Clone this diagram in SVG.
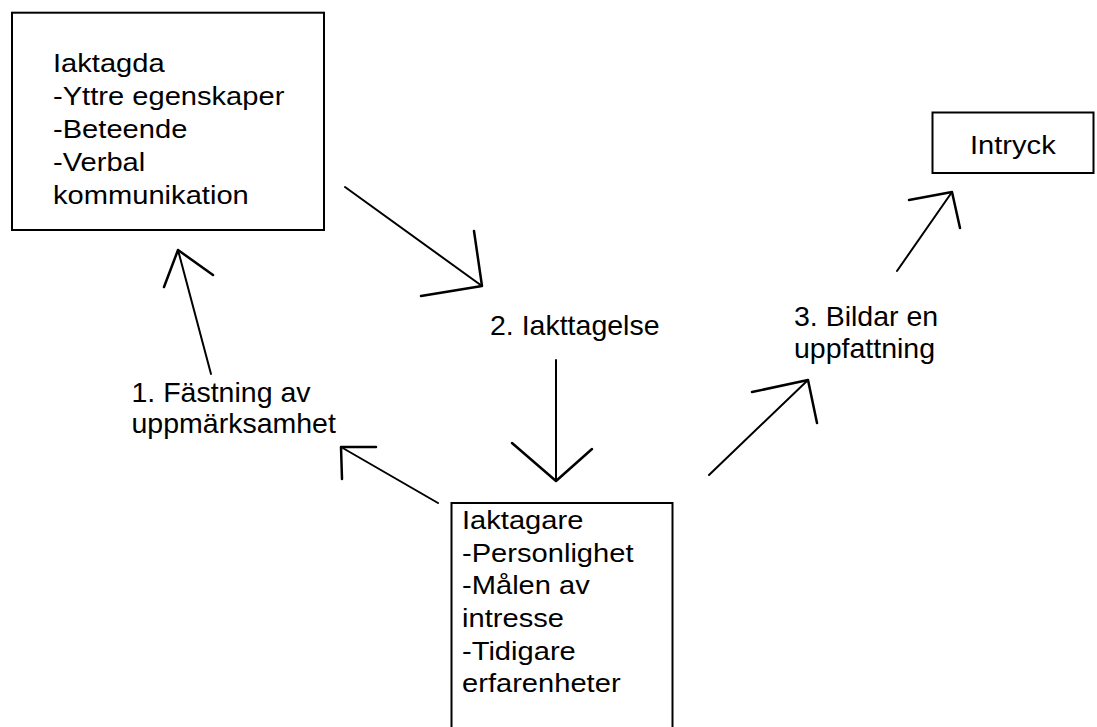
<svg xmlns="http://www.w3.org/2000/svg" width="1097" height="727" viewBox="0 0 1097 727">
<style>
.box{fill:#fff;stroke:#000;stroke-width:2}
.bt{font-family:"Liberation Sans",Arial,sans-serif;font-size:26px;fill:#000}
.lb{font-family:"Liberation Sans",Arial,sans-serif;font-size:28.5px;fill:#000}
.ln{fill:none;stroke:#000;stroke-width:2;stroke-linecap:round;stroke-linejoin:round}
.hd{fill:none;stroke:#000;stroke-width:2.5;stroke-linecap:round;stroke-linejoin:round}
</style>
<rect width="1097" height="727" fill="#fff"/>
<g id="iaktagda">
<rect class="box" x="12" y="12.7" width="312" height="217.3"/>
<text class="bt" transform="translate(53 0) scale(1.12 1)"><tspan x="0" y="72.5">Iaktagda</tspan><tspan x="0" y="105.5">-Yttre egenskaper</tspan><tspan x="0" y="138.5">-Beteende</tspan><tspan x="0" y="171.5">-Verbal</tspan><tspan x="0" y="204.5">kommunikation</tspan></text>
</g>
<g id="intryck">
<rect class="box" x="932.5" y="112.5" width="161" height="60.5"/>
<text class="bt" transform="translate(970 0) scale(1.12 1)"><tspan x="0" y="154">Intryck</tspan></text>
</g>
<g id="iaktagare">
<rect class="box" x="451.5" y="503" width="221" height="240"/>
<text class="bt" transform="translate(462 0) scale(1.12 1)"><tspan x="0" y="529">Iaktagare</tspan><tspan x="0" y="562">-Personlighet</tspan><tspan x="0" y="594">-Målen av</tspan><tspan x="0" y="627">intresse</tspan><tspan x="0" y="660">-Tidigare</tspan><tspan x="0" y="692.5">erfarenheter</tspan></text>
</g>
<g id="label-1">
<text class="lb"><tspan x="131.5" y="401.5">1. Fästning av</tspan><tspan x="131.5" y="432.5">uppmärksamhet</tspan></text>
</g>
<g id="label-2">
<text class="lb" x="490" y="335">2. Iakttagelse</text>
</g>
<g id="label-3">
<text class="lb"><tspan x="794" y="326">3. Bildar en</tspan><tspan x="794" y="358">uppfattning</tspan></text>
</g>
<g id="connectors">
<line class="ln" x1="345" y1="187" x2="482" y2="286"/>
<polyline class="hd" points="474,231 482,286 421,296"/>
<line class="ln" x1="556" y1="360" x2="556" y2="481"/>
<polyline class="hd" points="512,443 556,481 592,449"/>
<line class="ln" x1="438" y1="503" x2="341" y2="447"/>
<polyline class="hd" points="376,447 341,447 342,479"/>
<line class="ln" x1="211" y1="374" x2="178" y2="250"/>
<polyline class="hd" points="164,287 178,250 213,275"/>
<line class="ln" x1="709" y1="475" x2="808" y2="380"/>
<polyline class="hd" points="752,392 808,380 817,423"/>
<line class="ln" x1="897" y1="271" x2="952" y2="192"/>
<polyline class="hd" points="909,200 952,192 960,228"/>
</g>
</svg>
